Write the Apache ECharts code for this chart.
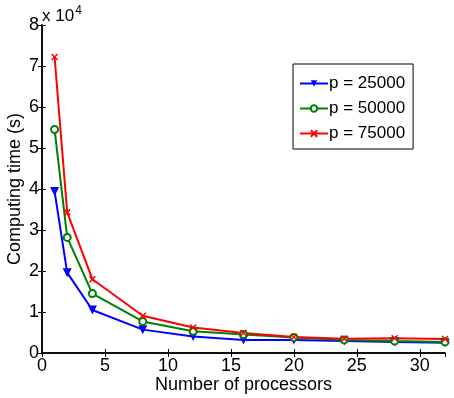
<!DOCTYPE html>
<html>
<head>
<meta charset="utf-8">
<script src="https://cdn.jsdelivr.net/npm/echarts@6/dist/echarts.min.js"></script>
<style>
  html, body { margin: 0; padding: 0; background: #fff; }
  #chart { width: 454px; height: 398px; }
</style>
</head>
<body>
<div id="chart"></div>
<script>
// processors on x, computing time (s) on y
const processors = [1, 2, 4, 8, 12, 16, 20, 24, 28, 32];
const timeP25000 = [39400, 19600, 10500, 5700, 4000, 3200, 3200, 2900, 2700, 2500];
const timeP50000 = [54500, 28200, 14500, 7700, 5300, 4500, 3800, 3200, 2900, 2700];
const timeP75000 = [72200, 34300, 18000, 9100, 6200, 4900, 3900, 3500, 3600, 3400];
const yTicks = [0, 1, 2, 3, 4, 5, 6, 7, 8];

const FONT = "Liberation Sans";
const crossPath = "path://M0,0L10,10M10,0L0,10";

function pairs(ys) {
  return processors.map((x, i) => [x, ys[i]]);
}

const tickStyle = { inside: true, length: 4, lineStyle: { color: "#000", width: 1 } };

const chart = echarts.init(document.getElementById("chart"), null, { renderer: "canvas" });

chart.setOption({
  animation: false,
  backgroundColor: "#fff",
  textStyle: { fontFamily: FONT },
  grid: { left: 42, right: 9, top: 25, bottom: 45, containLabel: false, outerBoundsMode: "none" },
  xAxis: [
    {
      type: "value",
      min: 0, max: 32, interval: 5,
      name: "Number of processors",
      nameLocation: "middle",
      nameGap: 23,
      nameMoveOverlap: false,
      nameTextStyle: { color: "#000", fontSize: 18, fontFamily: FONT },
      axisLine: { show: true, onZero: false, lineStyle: { color: "#000", width: 1.5 } },
      axisTick: tickStyle,
      axisLabel: { color: "#000", fontSize: 18, fontFamily: FONT, margin: 4, showMaxLabel: false },
      splitLine: { show: false },
    },
    {
      type: "value", position: "top",
      min: 0, max: 32, interval: 5,
      axisLine: { show: true, lineStyle: { color: "#000", width: 1.5 } },
      axisTick: tickStyle,
      axisLabel: { show: false },
      splitLine: { show: false },
    },
  ],
  yAxis: [
    {
      type: "value",
      min: 0, max: 80000, interval: 10000,
      name: "Computing time (s)",
      nameLocation: "middle",
      nameGap: 18,
      nameMoveOverlap: false,
      nameTextStyle: { color: "#000", fontSize: 18, fontFamily: FONT },
      axisLine: { show: true, onZero: false, lineStyle: { color: "#000", width: 1.5 } },
      axisTick: tickStyle,
      axisLabel: {
        color: "#000", fontSize: 18, fontFamily: FONT, margin: 3,
        formatter: (v) => String(yTicks[Math.round(v / 10000)]),
      },
      splitLine: { show: false },
    },
    {
      type: "value", position: "right",
      min: 0, max: 80000, interval: 10000,
      axisLine: { show: true, lineStyle: { color: "#000", width: 1.5 } },
      axisTick: tickStyle,
      axisLabel: { show: false },
      splitLine: { show: false },
    },
  ],
  legend: {
    orient: "vertical",
    left: 293, top: 64,
    padding: [11, 8, 7, 6],
    itemWidth: 28, itemHeight: 8,
    itemGap: 8,
    borderColor: "#000", borderWidth: 1,
    backgroundColor: "#fff",
    textStyle: { color: "#000", fontSize: 17, fontFamily: FONT, padding: [0, 0, 0, -4] },
  },
  graphic: [
    {
      type: "text", left: 42, top: 5,
      style: {
        text: "{b|x 10}{s|4}",
        rich: {
          b: { fontSize: 17, fontFamily: FONT, fill: "#000", verticalAlign: "bottom" },
          s: { fontSize: 12, fontFamily: FONT, fill: "#000", verticalAlign: "top", padding: [0, 0, 8, 1] },
        },
      },
    },
  ],
  series: [
    {
      name: "p = 25000", type: "line",
      data: pairs(timeP25000),
      symbol: "triangle", symbolRotate: 180, symbolSize: 9,
      lineStyle: { color: "#0000ff", width: 2 },
      itemStyle: { color: "#0000ff" },
    },
    {
      name: "p = 50000", type: "line",
      data: pairs(timeP50000),
      symbol: "emptyCircle", symbolSize: 7,
      lineStyle: { color: "#008000", width: 2 },
      itemStyle: { color: "#008000", borderWidth: 1.5 },
    },
    {
      name: "p = 75000", type: "line",
      data: pairs(timeP75000),
      symbol: crossPath, symbolSize: 6,
      lineStyle: { color: "#ff0000", width: 2 },
      itemStyle: { color: "#ff0000", borderColor: "#ff0000", borderWidth: 1.5 },
    },
  ],
});
</script>
</body>
</html>
